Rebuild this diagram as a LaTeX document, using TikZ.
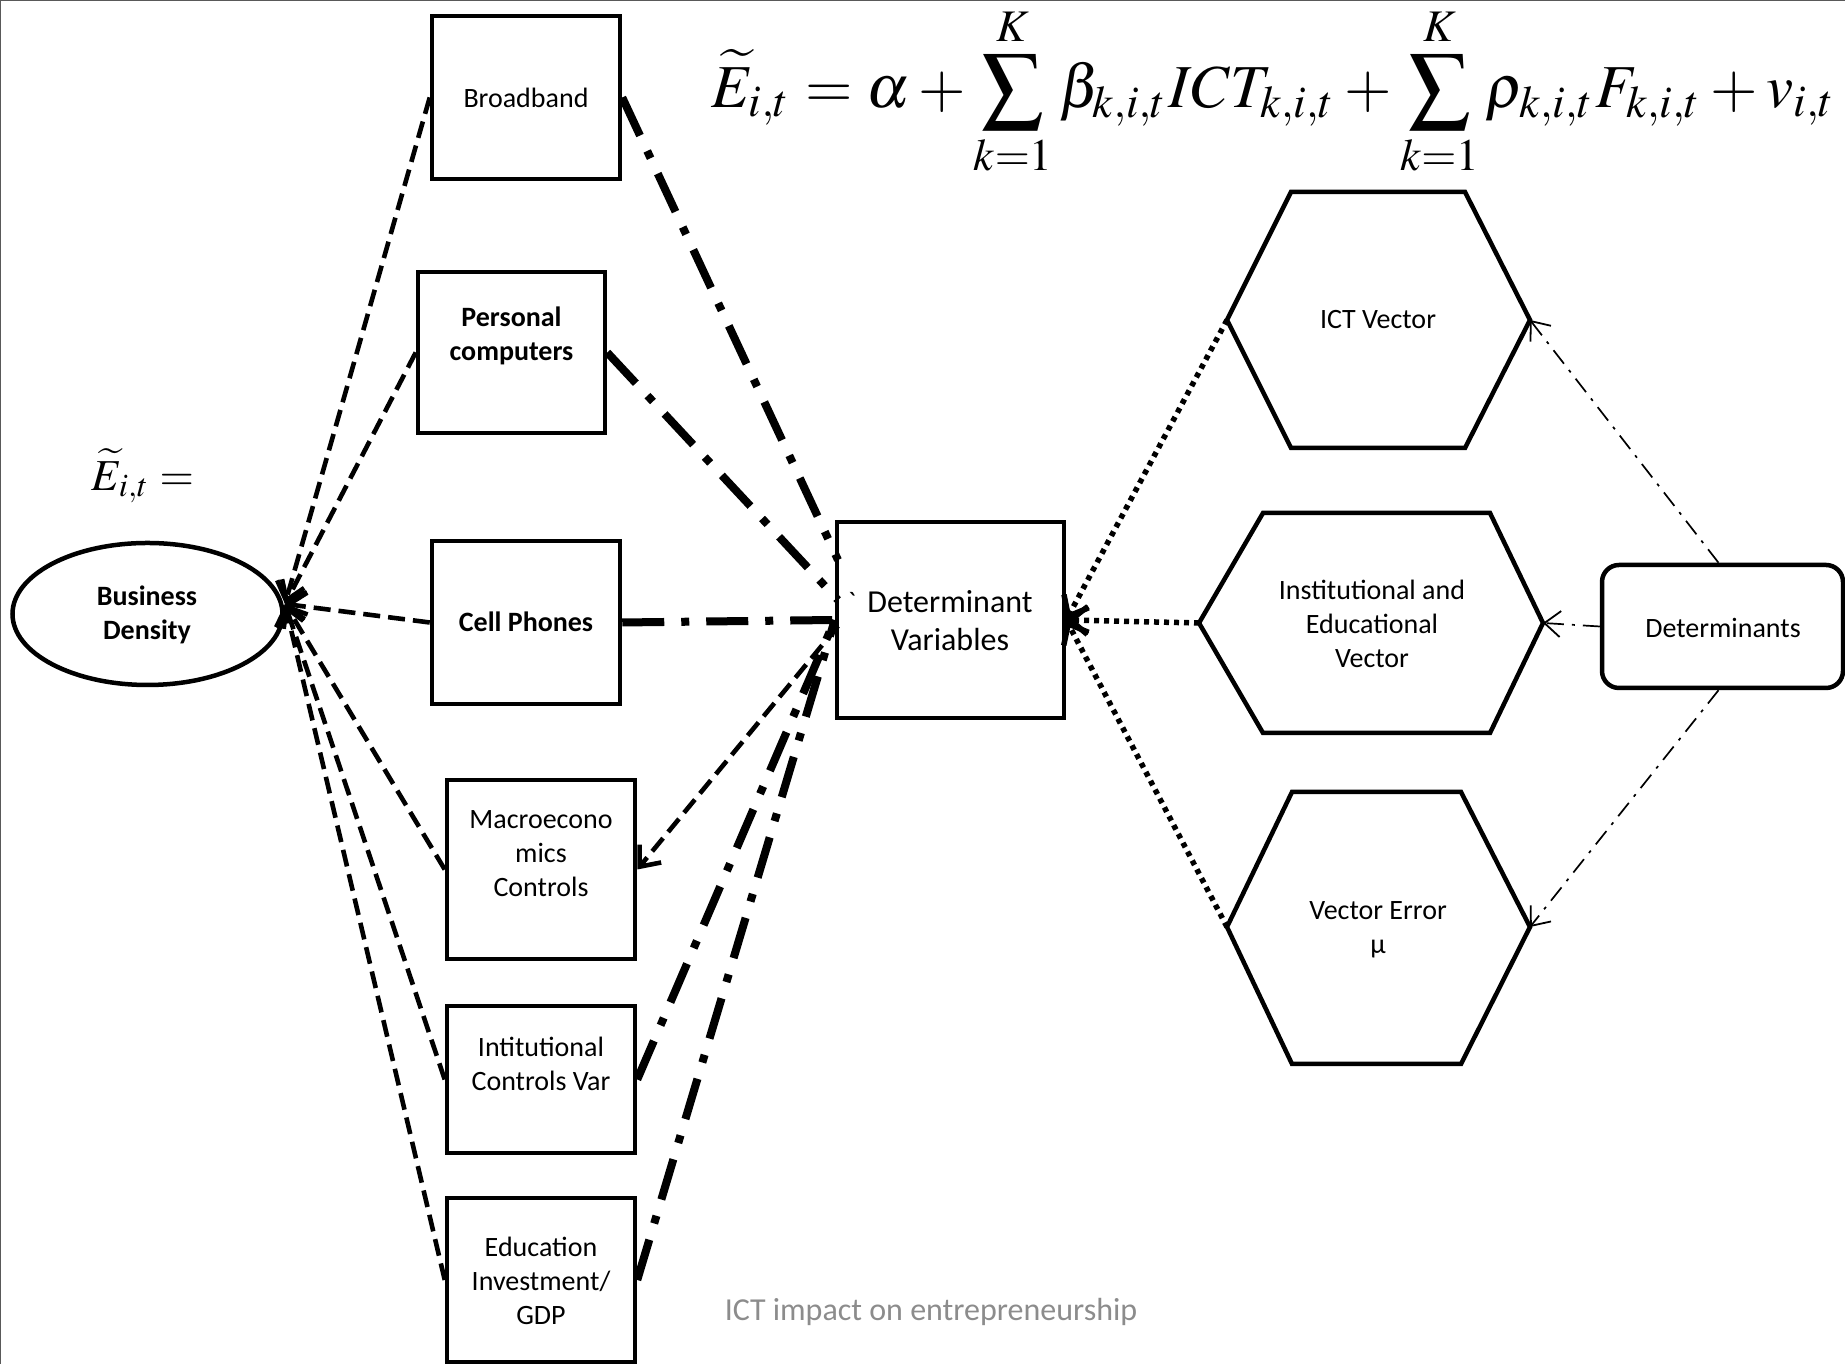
\documentclass[tikz,border=0pt]{standalone}
\usepackage{mathptmx}
\usepackage[no-math]{fontspec}
\setmainfont{Carlito}
\usepackage{graphicx}
\usetikzlibrary{arrows.meta,calc,shapes.geometric}
\begin{document}
\begin{tikzpicture}[x=1pt,y=1pt,
  box/.style={draw, line width=4.5pt, inner sep=0pt, rectangle},
  hexa/.style={draw, line width=4.5pt, line join=miter},
  txt/.style={font=\fontsize{28}{34}\selectfont, align=center, inner sep=0pt},
  txtb/.style={font=\fontsize{28}{34}\selectfont\bfseries, align=center, inner sep=0pt},
  barb/.style={-{Straight Barb[length=17pt,width=28pt]}},
  ldash/.style={line width=4.6pt, dash pattern=on 17pt off 8pt, barb},
  tdd/.style={line width=8pt, dash pattern=on 42pt off 17pt on 8pt off 17pt},
  dotl/.style={line width=5.5pt, dash pattern=on 5pt off 5pt, barb},
  thindd/.style={line width=1.7pt, dash pattern=on 17pt off 8pt on 3pt off 8pt,
    -{Straight Barb[length=16pt,width=26pt,line width=1.8pt]}}
]
\useasboundingbox (0,0) rectangle (1845,1364);
\draw[gray!70!black, line width=2pt] (0,0) -- (0,1364) -- (1845,1364);

% equation
\node[inner sep=0pt] (eq) at (1274,1272) {\resizebox{1124pt}{!}{$\displaystyle \widetilde{E}_{i,t}=\alpha+\sum_{k=1}^{K}\beta_{k,i,t}ICT_{k,i,t}+\sum_{k=1}^{K}\rho_{k,i,t}F_{k,i,t}+v_{i,t}$}};
\node[inner sep=0pt] (el) at (143,888) {\resizebox{102pt}{!}{$\widetilde{E}_{i,t} =$}};

% ellipse
\node[draw, ellipse, line width=4.5pt, inner sep=0pt, minimum width=270pt, minimum height=142pt] (bd) at (147.5,750) {};
\node[txtb] (bdt) at (147,749) {Business\\Density};

% left boxes
\node[box, minimum width=188pt, minimum height=163pt] (bb) at (526,1266.5) {};
\node[txt] (bbt) at (526,1266) {Broadband};
\node[box, minimum width=187pt, minimum height=161pt] (pc) at (511.5,1011.5) {};
\node[txtb] (pct) at (511.5,1028) {Personal\\computers};
\node[box, minimum width=188pt, minimum height=163pt] (cp) at (526,741.5) {};
\node[txtb] (cpt) at (526,742) {Cell Phones};
\node[box, minimum width=188pt, minimum height=179pt] (mc) at (541,494.5) {};
\node[txt] (mct) at (541,510) {Macroecono\\mics\\Controls};
\node[box, minimum width=188pt, minimum height=147pt] (ic) at (541,284.5) {};
\node[txt] (ict) at (541,300) {Intitutional\\Controls Var};
\node[box, minimum width=188pt, minimum height=164pt] (ed) at (541,84) {};
\node[txt] (edt) at (541,83) {Education\\Investment/\\GDP};

% determinant variables
\node[box, minimum width=227pt, minimum height=196pt] (dv) at (950.5,744) {};
\node[txt, font=\fontsize{32}{38}\selectfont] (dvt) at (950,743) {Determinant\\Variables};
\node[txt] (tick) at (852,762) {\textasciigrave};

% hexagons
\coordinate (ictL) at (1227,1044); \coordinate (ictR) at (1530,1044);
\draw[hexa] (ictL) -- (1291,1172) -- (1465,1172) -- (ictR) -- (1465,916) -- (1291,916) -- cycle;
\node[txt] (ictvt) at (1378,1044) {ICT Vector};
\coordinate (insL) at (1199,741); \coordinate (insR) at (1543,741);
\draw[hexa] (insL) -- (1263,851) -- (1490,851) -- (insR) -- (1490,631) -- (1263,631) -- cycle;
\node[txt] (inst) at (1372,740) {Institutional and\\Educational\\Vector};
\coordinate (veL) at (1227,437); \coordinate (veR) at (1530,437);
\draw[hexa] (veL) -- (1292,572) -- (1461,572) -- (veR) -- (1461,300) -- (1292,300) -- cycle;
\node[txt] (vet) at (1378,434) {Vector Error\\μ};

% determinants
\node[box, rounded corners=17pt, minimum width=241pt, minimum height=123pt] (det) at (1722.5,737.5) {};
\node[txt] (dett) at (1723,736) {Determinants};

% caption
\node[txt, font=\fontsize{32}{38}\selectfont, text=black!45] (cap) at (931,52) {ICT impact on entrepreneurship};

% connectors
\coordinate (bdin) at (285,760);
\coordinate (dvA) at (838,804);
\coordinate (dvB) at (838,764);
\coordinate (dvC) at (838,738);

\draw[ldash] (bb.west) -- (bdin);
\draw[ldash] (pc.west) -- (bdin);
\draw[ldash] (cp.west) -- (bdin);
\draw[ldash] (mc.west) -- (bdin);
\draw[ldash] (ic.west) -- (bdin);
\draw[ldash] (ed.west) -- (bdin);

\draw[tdd] (bb.east) -- (dvA);
\draw[tdd] (pc.east) -- (dvB);
\draw[tdd] (cp.east) -- (dv.west);
\draw[tdd] (ic.east) -- (dv.west);
\draw[tdd] (ed.east) -- (dv.west);
\draw[ldash] (dvC) -- (mc.east);

\draw[dotl] (ictL) -- (dv.east);
\draw[dotl] (insL) -- (dv.east);
\draw[dotl] (veL) -- (dv.east);

\draw[thindd] ($(det.north)+(-4,0)$) -- (ictR);
\draw[thindd] (det.west) -- (insR);
\draw[thindd] ($(det.south)+(-4,0)$) -- (veR);
\end{tikzpicture}
\end{document}
